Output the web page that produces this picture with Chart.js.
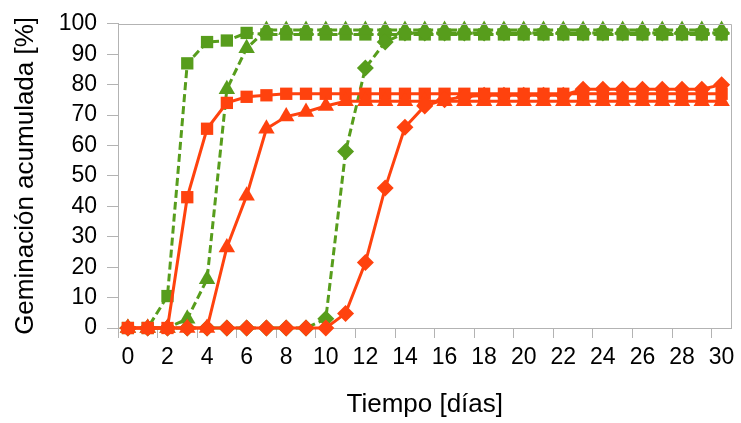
<!DOCTYPE html>
<html>
<head>
<meta charset="utf-8">
<script src="https://cdn.jsdelivr.net/npm/chart.js@4/dist/chart.umd.min.js"></script>
<style>
html,body{margin:0;padding:0;background:#fff;}
#wrap{width:741px;height:423px;}
</style>
</head>
<body>
<div id="wrap"><canvas id="c" width="741" height="423"></canvas></div>
<script>
const days = [0,1,2,3,4,5,6,7,8,9,10,11,12,13,14,15,16,17,18,19,20,21,22,23,24,25,26,27,28,29,30];

const greenSquares   = [0,0,10.5,87,94,94.5,97,96.5,96.5,96.5,96.5,96.5,96.5,96.5,96.5,96.5,96.5,96.5,96.5,96.5,96.5,96.5,96.5,96.5,96.5,96.5,96.5,96.5,96.5,96.5,96.5];
const greenTriangles = [0,0,0,3,16,78.5,92,98,98,98,98,98,98,98,98,98,98,98,98,98,98,98,98,98,98,98,98,98,98,98,98];
const greenDiamonds  = [0,0,0,0,0,0,0,0,0,0,3,58,85.5,94,97,97,97,97,97,97,97,97,97,97,97,97,97,97,97,97,97];
const orangeSquares   = [0,0,0,43,65.5,74,76,76.5,77,77,77,77,77,77,77,77,77,77,77,77,77,77,77,77,77,77,77,77,77,77,77];
const orangeTriangles = [0,0,0,0,0,26.5,43.5,65.5,69.5,71,73,74.5,74.5,74.5,74.5,74.5,74.5,74.5,74.5,74.5,74.5,74.5,74.5,74.5,74.5,74.5,74.5,74.5,74.5,74.5,74.5];
const orangeDiamonds  = [0,0,0,0,0,0,0,0,0,0,0,4.8,21.5,46,66,73,75,76,76.5,76.5,76.5,76.5,76.5,78.5,78.5,78.5,78.5,78.5,78.5,78.5,80];

const yTicks = [0,10,20,30,40,50,60,70,80,90,100];
const xTitle = 'Tiempo [días]';
const yTitle = 'Geminación acumulada [%]';

const GREEN = '#579D1C';
const ORANGE = '#FF420E';
const GRAY = '#b3b3b3';
const FONT = 'Liberation Sans, Arial, sans-serif';

function ds(data, color, style, radius, dashed) {
  return {
    data: data,
    borderColor: color,
    backgroundColor: color,
    pointBackgroundColor: color,
    pointBorderColor: color,
    pointBorderWidth: 0,
    pointStyle: style,
    pointRadius: radius,
    pointHoverRadius: radius,
    borderWidth: 3,
    borderDash: dashed ? [8,4] : [],
    tension: 0,
    fill: false,
    clip: false
  };
}

const frame = {
  id: 'frame',
  afterDraw(chart) {
    const a = chart.chartArea, c = chart.ctx;
    c.save();
    c.strokeStyle = GRAY;
    c.lineWidth = 1;
    c.beginPath();
    c.moveTo(Math.round(a.left) + 0.5, Math.round(a.top) + 0.5);
    c.lineTo(Math.round(a.right) - 0.5, Math.round(a.top) + 0.5);
    c.lineTo(Math.round(a.right) - 0.5, Math.round(a.bottom) + 0.5);
    c.stroke();
    c.restore();
  }
};

new Chart(document.getElementById('c'), {
  type: 'line',
  data: {
    labels: days.map(String),
    datasets: [
      ds(orangeDiamonds, ORANGE, 'rectRot', 8.5, false),
      ds(orangeTriangles, ORANGE, 'triangle', 9.5, false),
      ds(orangeSquares, ORANGE, 'rect', 8.7, false),
      ds(greenDiamonds, GREEN, 'rectRot', 8.5, true),
      ds(greenTriangles, GREEN, 'triangle', 9.5, true),
      ds(greenSquares, GREEN, 'rect', 8.7, true)
    ]
  },
  options: {
    responsive: false,
    animation: false,
    devicePixelRatio: 1,
    layout: { padding: { left: 0, right: 3, top: 16, bottom: 0 } },
    plugins: { legend: { display: false }, tooltip: { enabled: false } },
    scales: {
      x: {
        type: 'category',
        offset: true,
        grid: {
          offset: true,
          drawOnChartArea: false,
          drawTicks: true,
          tickLength: 10,
          tickColor: (ctx) => (ctx.index % 2 === 0 ? GRAY : 'rgba(0,0,0,0)'),
          color: GRAY
        },
        border: { display: true, color: GRAY, width: 1 },
        ticks: {
          autoSkip: false,
          maxRotation: 0,
          minRotation: 0,
          padding: 6,
          color: '#000',
          font: { family: FONT, size: 23 },
          callback: function(v, i) { return i % 2 === 0 ? this.getLabelForValue(v) : ''; }
        },
        title: {
          display: true,
          text: xTitle,
          color: '#000',
          font: { family: FONT, size: 26 },
          padding: { top: 0, bottom: 3 }
        },
        afterFit: (s) => { s.height = 95; }
      },
      y: {
        min: 0,
        max: 100,
        afterBuildTicks: (s) => { s.ticks = yTicks.map(v => ({ value: v })); },
        grid: {
          drawOnChartArea: false,
          drawTicks: true,
          tickLength: 11,
          tickColor: GRAY,
          color: GRAY
        },
        border: { display: true, color: GRAY, width: 1 },
        ticks: {
          autoSkip: false,
          padding: 10,
          color: '#000',
          font: { family: FONT, size: 23 }
        },
        title: {
          display: true,
          text: yTitle,
          color: '#000',
          font: { family: FONT, size: 26 },
          padding: { top: 10, bottom: 0 }
        },
        afterFit: (s) => { s.width = 118; }
      }
    }
  },
  plugins: [frame]
});
</script>
</body>
</html>
